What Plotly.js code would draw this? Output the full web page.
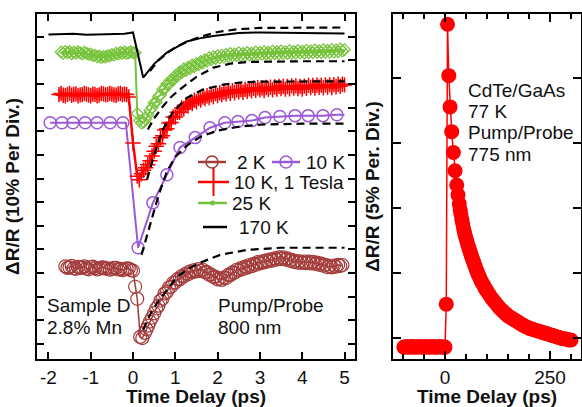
<!DOCTYPE html>
<html><head><meta charset="utf-8">
<script src="https://cdn.plot.ly/plotly-3.0.1.min.js"></script>
<style>html,body{margin:0;padding:0;background:#fff}#chart{width:582px;height:407px}</style>
</head><body><div id="chart"></div>
<script>
// ---------- Left panel: Sample D, 2.8% Mn, pump/probe 800 nm (y in tick units, offset traces) ----------
const t2K = [-1.6,-1.55,-1.5,-1.45,-1.4,-1.35,-1.3,-1.25,-1.2,-1.15,-1.1,-1.05,-1.0,-0.95,-0.9,-0.85,-0.8,-0.75,-0.7,-0.65,-0.6,-0.55,-0.5,-0.45,-0.4,-0.35,-0.3,-0.25,-0.2,-0.15,-0.1,-0.05,0.0,
  0.05,0.1,0.17,0.22,0.28,0.32,0.36,0.4,0.45,
  0.5,0.55,0.6,0.65,0.7,0.75,0.8,0.85,0.9,0.95,1.0,1.05,1.1,1.15,1.2,1.25,1.3,1.35,1.4,1.45,1.5,1.55,1.6,1.65,1.7,1.75,1.8,1.85,1.9,1.95,
  2.0,2.05,2.1,2.15,2.2,2.25,2.3,2.35,2.4,2.45,2.5,2.55,2.6,2.65,2.7,2.75,2.8,2.85,2.9,2.95,3.0,3.05,3.1,3.15,3.2,3.25,3.3,3.35,3.4,3.45,
  3.5,3.55,3.6,3.65,3.7,3.75,3.8,3.85,3.9,3.95,4.0,4.05,4.1,4.15,4.2,4.25,4.3,4.35,4.4,4.45,4.5,4.55,4.6,4.65,4.7,4.75,4.8,4.85,4.9,4.95];
const r2K = [4.28,4.22,4.24,4.3,4.2,4.18,4.26,4.22,4.23,4.28,4.19,4.16,4.25,4.27,4.21,4.15,4.18,4.23,4.24,4.19,4.2,4.14,4.17,4.22,4.22,4.15,4.18,4.12,4.15,4.2,4.19,4.12,4.1,
  3.42,2.91,1.3,1.25,1.47,1.62,1.78,1.95,2.12,
  2.3,2.5,2.62,2.84,2.92,3.14,3.2,3.39,3.42,3.59,3.6,3.74,3.73,3.87,3.85,3.98,3.95,4.07,4.03,4.13,4.07,4.17,4.09,4.14,4.03,4.04,3.93,3.94,3.83,3.84,
  3.73,3.77,3.71,3.81,3.79,3.92,3.91,4.03,4.01,4.14,4.11,4.21,4.17,4.27,4.23,4.34,4.29,4.39,4.35,4.46,4.41,4.5,4.45,4.54,4.49,4.58,4.53,4.62,4.57,4.66,
  4.6,4.66,4.57,4.62,4.52,4.56,4.47,4.52,4.44,4.5,4.43,4.49,4.42,4.48,4.41,4.47,4.39,4.44,4.35,4.4,4.31,4.35,4.25,4.31,4.24,4.32,4.27,4.35,4.3,4.34];

const t10K = [-1.96,-1.68,-1.42,-1.13,-0.85,-0.54,-0.24,-0.17,0.12,0.47,0.80,1.11,1.47,1.82,2.17,2.48,2.81,3.12,3.47,3.83,4.14,4.49,4.82,5.0];
const r10K = [10.36,10.36,10.36,10.36,10.36,10.36,10.36,10.36,5.07,6.97,8.16,9.31,9.73,10.15,10.36,10.41,10.45,10.58,10.62,10.66,10.66,10.66,10.70,10.70];
const shown10K = [1,1,1,1,1,1,1,0,1,1,1,1,1,1,1,1,1,1,1,1,1,1,1,0];

const t10KB = [-1.75,-1.7,-1.65,-1.6,-1.55,-1.5,-1.45,-1.4,-1.35,-1.3,-1.25,-1.2,-1.15,-1.1,-1.05,-1.0,-0.95,-0.9,-0.85,-0.8,-0.75,-0.7,-0.65,-0.6,-0.55,-0.5,-0.45,-0.4,-0.35,-0.3,-0.25,-0.2,-0.15,
  -0.1,0.0,0.1,0.15,0.2,0.25,0.3,0.35,0.4,0.45,
  0.5,0.55,0.6,0.65,0.7,0.75,0.8,0.85,0.9,0.95,1.0,1.05,1.1,1.15,1.2,1.25,1.3,1.35,1.4,1.45,1.5,1.55,1.6,1.65,1.7,1.75,1.8,1.85,1.9,1.95,
  2.0,2.05,2.1,2.15,2.2,2.25,2.3,2.35,2.4,2.45,2.5,2.55,2.6,2.65,2.7,2.75,2.8,2.85,2.9,2.95,3.0,3.05,3.1,3.15,3.2,3.25,3.3,3.35,3.4,3.45,
  3.5,3.55,3.6,3.65,3.7,3.75,3.8,3.85,3.9,3.95,4.0,4.05,4.1,4.15,4.2,4.25,4.3,4.35,4.4,4.45,4.5,4.55,4.6,4.65,4.7,4.75,4.8,4.85,4.9,4.95,5.0];
const r10KB = [11.55,11.6,11.52,11.5,11.56,11.6,11.52,11.56,11.58,11.5,11.54,11.55,11.6,11.57,11.53,11.5,11.57,11.56,11.5,11.53,11.6,11.58,11.54,11.56,11.6,11.57,11.54,11.52,11.58,11.6,11.55,11.57,11.55,
  11.45,9.5,8.1,7.95,8.2,8.35,8.45,8.58,8.75,8.95,
  9.15,9.36,9.47,9.72,9.81,10.05,10.1,10.35,10.37,10.6,10.6,10.8,10.8,10.98,10.95,11.11,11.07,11.22,11.17,11.31,11.25,11.39,11.32,11.45,11.38,11.5,11.42,11.55,11.47,11.59,
  11.51,11.63,11.55,11.66,11.58,11.7,11.61,11.72,11.63,11.75,11.67,11.76,11.65,11.77,11.69,11.8,11.71,11.82,11.73,11.84,11.75,11.83,11.72,11.85,11.77,11.86,11.75,11.87,11.79,11.9,
  11.81,11.89,11.78,11.89,11.8,11.92,11.83,11.92,11.81,11.9,11.79,11.91,11.82,11.94,11.85,11.94,11.83,11.95,11.86,11.95,11.84,11.96,11.87,11.96,11.85,11.97,11.88,11.99,11.9,11.99,11.96];

const t25K = [-1.7,-1.65,-1.6,-1.55,-1.5,-1.45,-1.4,-1.35,-1.3,-1.25,-1.2,-1.15,-1.1,-1.05,-1.0,-0.95,-0.9,-0.85,-0.8,-0.75,-0.7,-0.65,-0.6,-0.55,-0.5,-0.45,-0.4,-0.35,-0.3,-0.25,-0.2,-0.15,-0.1,-0.05,0.0,
  0.05,0.1,0.15,0.2,0.25,0.3,0.35,0.4,0.45,
  0.5,0.55,0.6,0.65,0.7,0.75,0.8,0.85,0.9,0.95,1.0,1.05,1.1,1.15,1.2,1.25,1.3,1.35,1.4,1.45,1.5,1.55,1.6,1.65,1.7,1.75,1.8,1.85,1.9,1.95,
  2.0,2.05,2.1,2.15,2.2,2.25,2.3,2.35,2.4,2.45,2.5,2.55,2.6,2.65,2.7,2.75,2.8,2.85,2.9,2.95,3.0,3.05,3.1,3.15,3.2,3.25,3.3,3.35,3.4,3.45,
  3.5,3.55,3.6,3.65,3.7,3.75,3.8,3.85,3.9,3.95,4.0,4.05,4.1,4.15,4.2,4.25,4.3,4.35,4.4,4.45,4.5,4.55,4.6,4.65,4.7,4.75,4.8,4.85,4.9,4.95,5.0];
const r25K = [13.35,13.3,13.38,13.32,13.36,13.28,13.34,13.3,13.36,13.32,13.27,13.34,13.3,13.25,13.27,13.2,13.22,13.15,13.18,13.12,13.16,13.14,13.2,13.18,13.25,13.22,13.3,13.27,13.33,13.3,13.35,13.3,13.32,13.36,13.32,
  13.32,10.75,10.45,10.35,10.38,10.5,10.68,10.88,11.0,
  11.2,11.23,11.47,11.53,11.77,11.79,12.0,12.0,12.18,12.17,12.35,12.33,12.51,12.47,12.63,12.57,12.71,12.65,12.8,12.73,12.87,12.81,12.95,12.89,13.03,12.97,13.11,13.03,13.15,13.08,
  13.2,13.11,13.22,13.14,13.25,13.17,13.29,13.18,13.27,13.2,13.32,13.2,13.29,13.21,13.33,13.22,13.3,13.23,13.35,13.24,13.33,13.25,13.37,13.26,13.34,13.27,13.39,13.28,13.36,13.28,
  13.4,13.29,13.37,13.29,13.41,13.3,13.38,13.3,13.42,13.31,13.39,13.31,13.43,13.32,13.4,13.32,13.44,13.33,13.41,13.33,13.45,13.34,13.42,13.34,13.46,13.35,13.44,13.36,13.48,13.39,13.45];

const t170K = [-2.0,-1.7,-1.4,-1.1,-0.8,-0.5,-0.2,0.0,0.24,0.5,0.8,1.27,1.6,1.9,2.5,3.0,3.5,4.0,4.5,5.0];
const r170K = [14.09,14.1,14.12,14.08,14.1,14.09,14.12,14.18,12.27,12.85,13.33,13.8,13.94,14.03,14.16,14.18,14.18,14.16,14.15,14.14];

// model fits (dashed)
const fits = [
  {t:[0.4,0.6,0.8,1.0,1.3,1.6,2.0,2.5,3.0,4.0,5.0], r:[12.55,13.0,13.3,13.55,13.8,14.0,14.2,14.32,14.37,14.39,14.39]},
  {t:[0.35,0.5,0.7,0.9,1.1,1.3,1.5,1.9,2.3,2.7,3.2,4.0,5.0], r:[10.07,10.55,11.04,11.45,11.76,12.05,12.3,12.69,12.86,12.93,12.95,12.96,12.96]},
  {t:[0.33,0.5,0.7,0.95,1.28,1.65,2.13,2.53,3.0,4.0,5.0], r:[7.95,9.0,10.05,10.83,11.42,11.76,11.97,12.06,12.1,12.11,12.11]},
  {t:[0.2,0.4,0.6,0.8,1.0,1.3,1.6,2.0,2.5,3.0,4.0,5.0], r:[4.77,6.04,7.27,8.29,8.92,9.43,9.77,10.03,10.19,10.28,10.32,10.32]},
  {t:[0.24,0.4,0.57,0.8,1.04,1.35,1.58,2.06,2.7,3.48,5.0], r:[1.59,2.23,2.74,3.29,3.84,4.22,4.43,4.77,4.98,5.07,5.07]}
];

// ---------- Right panel: CdTe/GaAs, 77 K, 775 nm ----------
const tCd = [-98,-94,-90,-86,-82,-78,-74,-70,-66,-62,-58,-54,-50,-46,-42,-38,-34,-30,-26,-22,-18,-14,-10,-6,-2,0,3,6,9,12,16,20,24,28,31,34,36,38,40,42,44,46,48,50,52,54,56,58,60,62,64,66,68,70,72,74,76,78,80,83,86,89,92,95,98,100,105,110,115,120,125,130,135,140,145,150,155,160,165,170,175,180,185,190,195,200,205,210,215,220,225,230,235,240,245,250,255,260,265,270,275,280,285,290,295,300];
const rCd = [-0.14,-0.14,-0.13,-0.14,-0.14,-0.13,-0.14,-0.14,-0.14,-0.13,-0.14,-0.14,-0.14,-0.13,-0.14,-0.14,-0.14,-0.13,-0.14,-0.14,-0.14,-0.13,-0.14,-0.14,-0.14,-0.14,0.52,4.82,4.03,3.55,3.17,2.85,2.57,2.35,2.2,2.06,1.97,1.9,1.82,1.76,1.69,1.63,1.58,1.53,1.49,1.44,1.4,1.36,1.32,1.28,1.24,1.2,1.17,1.13,1.1,1.06,1.03,0.99,0.96,0.92,0.88,0.84,0.81,0.77,0.74,0.72,0.67,0.62,0.58,0.54,0.5,0.46,0.43,0.4,0.37,0.34,0.32,0.3,0.28,0.26,0.24,0.22,0.2,0.18,0.17,0.15,0.14,0.13,0.12,0.11,0.1,0.09,0.08,0.07,0.06,0.05,0.04,0.03,0.02,0.01,0.0,-0.01,-0.01,-0.02,-0.03,-0.03];

const seriesNames = ['2 K','10 K','10 K, 1 Tesla','25 K','170 K'];
const colors = {b:'#a33b3b', p:'#9a5ad8', r:'#ff0000', g:'#76c23a', k:'#000000'};
const notesLeft = [['Sample D','2.8% Mn'],['Pump/Probe','800 nm']];
const notesRight = ['CdTe/GaAs','77 K','Pump/Probe','775 nm'];
const xTickVals = [-2,-1,0,1,2,3,4,5];
const xTickText = ['-2','-1','0','1','2','3','4','5'];

const FONT = 'Liberation Sans, Arial, Helvetica, sans-serif';
const traces = [];

traces.push({x:t2K, y:r2K, xaxis:'x', yaxis:'y', mode:'lines+markers', line:{color:colors.b, width:1.5},
  marker:{symbol:'circle-open', size:13, color:colors.b, line:{width:1.2, color:colors.b}}});
traces.push({x:t10K, y:r10K, xaxis:'x', yaxis:'y', mode:'lines+markers', line:{color:colors.p, width:2},
  marker:{symbol:'circle-open', size:12, color:colors.p, opacity:shown10K, line:{width:1.5, color:colors.p}}});
traces.push({x:t10KB, y:r10KB, xaxis:'x', yaxis:'y', mode:'lines+markers', line:{color:colors.r, width:2.5},
  marker:{symbol:'cross-thin-open', size:11, color:colors.r, line:{width:1.5, color:colors.r}},
  error_y:{type:'constant', value:0.2, width:0, thickness:1.3, color:colors.r}});
traces.push({x:t25K, y:r25K, xaxis:'x', yaxis:'y', mode:'lines+markers', line:{color:colors.g, width:2},
  marker:{symbol:'diamond-open', size:9, color:colors.g, line:{width:1.2, color:colors.g}}});
traces.push({x:t170K, y:r170K, xaxis:'x', yaxis:'y', mode:'lines', line:{color:colors.k, width:2}});
fits.forEach(f => traces.push({x:f.t, y:f.r, xaxis:'x', yaxis:'y', mode:'lines', line:{color:'#000', width:2.2, dash:'8px,5px'}}));

traces.push({x:tCd, y:rCd, xaxis:'x2', yaxis:'y2', mode:'lines+markers', line:{color:colors.r, width:1.5},
  marker:{symbol:'circle', size:15, color:colors.r}});

// legend drawn in figure-pixel overlay axes (x3/y3)
const legendRows = [
  {name:seriesNames[0], x0:198, x1:226, y:162, tx:235, col:colors.b, sym:'circle-open', size:12, lw:1.5},
  {name:seriesNames[1], x0:272, x1:300, y:162, tx:304, col:colors.p, sym:'circle-open', size:12, lw:1.5},
  {name:seriesNames[2], x0:198, x1:229, y:182, tx:232, col:colors.r, sym:'line-ns-open', size:20, lw:2},
  {name:seriesNames[3], x0:198, x1:227, y:203, tx:230, col:colors.g, sym:'circle', size:5, lw:0},
  {name:seriesNames[4], x0:203, x1:227, y:227, tx:237, col:colors.k, sym:null, size:0, lw:0}
];
const annotations = [];
legendRows.forEach(L => {
  traces.push({x:[L.x0, L.x1], y:[L.y, L.y], xaxis:'x3', yaxis:'y3', mode:'lines', line:{color:L.col, width:2.5}, hoverinfo:'skip'});
  if (L.sym) traces.push({x:[(L.x0+L.x1)/2], y:[L.y], xaxis:'x3', yaxis:'y3', mode:'markers',
    marker:{symbol:L.sym, size:L.size, color:L.col, line:{width:L.lw, color:L.col}}, hoverinfo:'skip'});
  annotations.push({x:L.tx, y:L.y, xref:'x3', yref:'y3', text:L.name, showarrow:false, xanchor:'left', yanchor:'middle',
    font:{family:FONT, size:19, color:'#111'}});
});
const txt = (s, x, y) => ({x:x, y:y, xref:'x3', yref:'y3', text:s, showarrow:false, xanchor:'left', yanchor:'middle',
  font:{family:FONT, size:19, color:'#111'}});
annotations.push(txt(notesLeft[0][0], 45, 305), txt(notesLeft[0][1], 45, 327));
annotations.push(txt(notesLeft[1][0], 216, 305), txt(notesLeft[1][1], 216, 327));
notesRight.forEach((s,i) => annotations.push(txt(s, 466, 90 + i*21.4)));

const axBase = {showline:true, linewidth:2, linecolor:'#000', mirror:'ticks', ticks:'inside', tickwidth:2, tickcolor:'#000',
  showgrid:false, zeroline:false, tickfont:{family:FONT, size:19, color:'#111'}};
const titleFont = {family:FONT, size:19, color:'#111', weight:'bold'};

const layout = {
  width:582, height:407, showlegend:false,
  margin:{l:37, r:1, t:14, b:48, pad:0},
  paper_bgcolor:'#fff', plot_bgcolor:'rgba(0,0,0,0)',
  xaxis: Object.assign({}, axBase, {domain:[0, 318/544], range:[-2.27, 5.248], tickmode:'array', tickvals:xTickVals, ticktext:xTickText,
    ticklen:7, anchor:'y', title:{text:'Time Delay (ps)', font:titleFont, standoff:2}}),
  yaxis: Object.assign({}, axBase, {domain:[0,1], range:[0.364, 14.96], tick0:1, dtick:1, ticklen:7, showticklabels:false, anchor:'x',
    title:{text:'ΔR/R (10% Per Div.)', font:titleFont, standoff:10}}),
  xaxis2: Object.assign({}, axBase, {domain:[356/544, 1], range:[-123.8, 323.8], tick0:0, dtick:250, ticklen:8, anchor:'y2',
    minor:{tick0:0, dtick:50, ticks:'inside', ticklen:5, tickwidth:2, tickcolor:'#000'},
    title:{text:'Time Delay (ps)', font:titleFont, standoff:2}}),
  yaxis2: Object.assign({}, axBase, {domain:[0,1], range:[-0.323, 4.977], tick0:0, dtick:1, ticklen:8, showticklabels:false, anchor:'x2',
    title:{text:'ΔR/R (5% Per. Div.)', font:titleFont, standoff:6}}),
  xaxis3: {domain:[0,1], range:[37,581], visible:false, anchor:'y3', fixedrange:true},
  yaxis3: {domain:[0,1], range:[359,14], visible:false, anchor:'x3', fixedrange:true},
  annotations: annotations
};

Plotly.newPlot('chart', traces, layout, {staticPlot:true, displayModeBar:false});
</script>
</body></html>
